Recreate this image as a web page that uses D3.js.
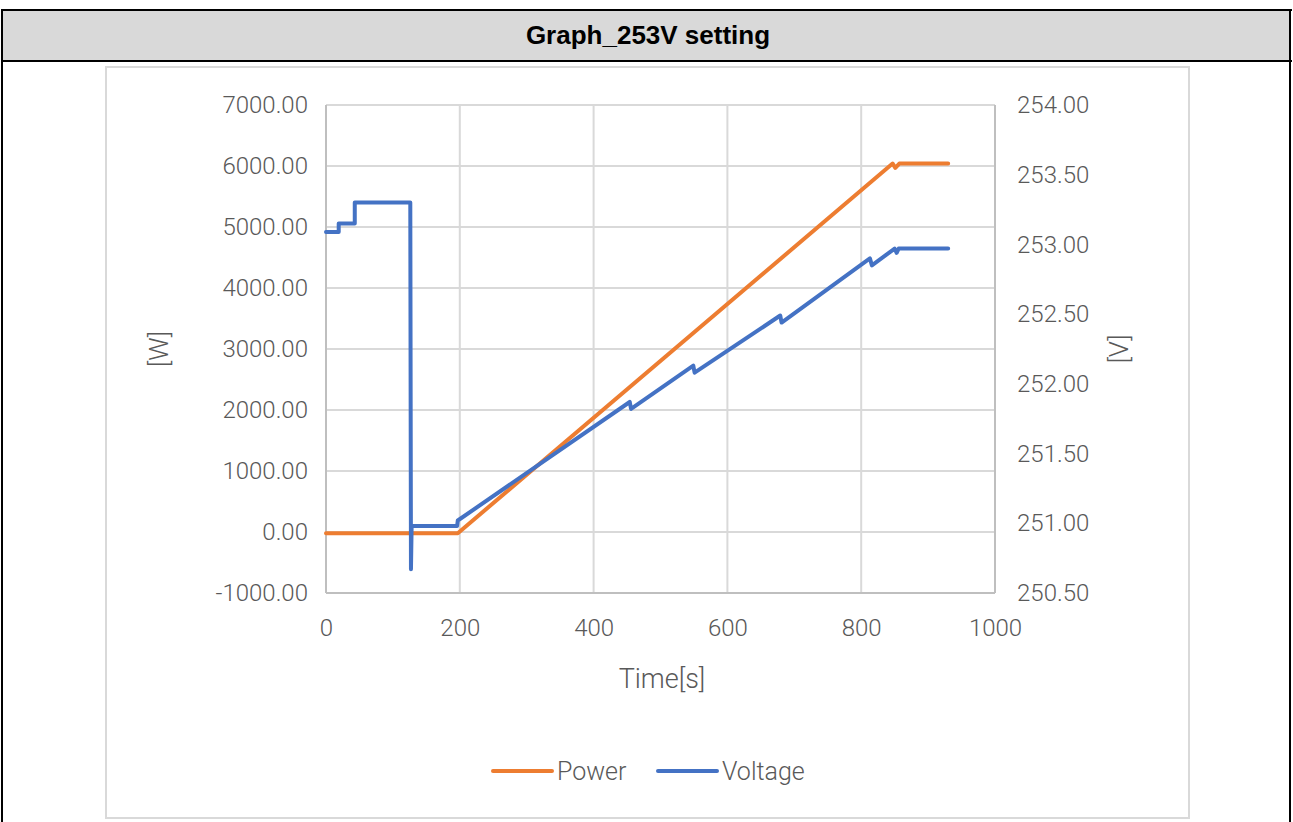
<!DOCTYPE html>
<html><head><meta charset="utf-8">
<script src="https://cdn.jsdelivr.net/npm/d3@7"></script>
<style>
html,body{margin:0;padding:0;background:#fff;}
svg{display:block;}
</style></head>
<body>
<svg id="c" width="1293" height="822"></svg>
<script>
const title = "Graph_253V setting";
const xTicks = [0, 200, 400, 600, 800, 1000];
const leftTicks = [-1000, 0, 1000, 2000, 3000, 4000, 5000, 6000, 7000];
const rightTicks = [250.5, 251.0, 251.5, 252.0, 252.5, 253.0, 253.5, 254.0];
const seriesNames = ["Power", "Voltage"];
const powerTime  = [0, 197, 847, 851, 857, 930];
const powerValue = [-20, -20, 6040, 5970, 6040, 6040];
const voltTime  = [0, 19, 19, 43, 43, 126, 127, 128, 196, 197, 454, 456, 549, 551, 679, 681, 813, 816, 850, 853, 856, 930];
const voltValue = [253.09, 253.09, 253.15, 253.15, 253.30, 253.30, 250.67, 250.98, 250.98, 251.02, 251.87, 251.82, 252.13, 252.08, 252.49, 252.44, 252.90, 252.85, 252.97, 252.94, 252.97, 252.97];

const svg = d3.select("#c");
const txtFont = "'Roboto','Liberation Sans',sans-serif";
const txtWeight = 300;
const txtColor = "#595959";
const fmt2 = d => d3.format(".2f")(d).replace("\u2212","-");

// table frame
svg.append("rect").attr("x",2).attr("y",10).attr("width",1288).attr("height",51).attr("fill","#d9d9d9");
svg.append("line").attr("x1",1).attr("x2",1292).attr("y1",10).attr("y2",10).attr("stroke","#000").attr("stroke-width",2);
svg.append("line").attr("x1",1).attr("x2",1292).attr("y1",61).attr("y2",61).attr("stroke","#000").attr("stroke-width",2);
svg.append("line").attr("x1",2).attr("x2",2).attr("y1",9).attr("y2",822).attr("stroke","#000").attr("stroke-width",2);
svg.append("line").attr("x1",1290).attr("x2",1290).attr("y1",9).attr("y2",822).attr("stroke","#000").attr("stroke-width",2);
svg.append("text").attr("x",648).attr("y",44).attr("text-anchor","middle")
  .attr("font-family","'Liberation Sans',Arial,sans-serif").attr("font-weight","bold").attr("font-size",26)
  .attr("fill","#000").text(title);

// chart area box
svg.append("rect").attr("x",106).attr("y",67).attr("width",1083).attr("height",751)
  .attr("fill","#fff").attr("stroke","#d9d9d9").attr("stroke-width",2);

const x = d3.scaleLinear().domain([0,1000]).range([326,995]);
const yL = d3.scaleLinear().domain([-1000,7000]).range([593,105]);
const yR = d3.scaleLinear().domain([250.5,254]).range([593,105]);

// gridlines
const g = svg.append("g");
g.selectAll(".hg").data(leftTicks).join("line")
  .attr("x1",x(0)).attr("x2",x(1000)).attr("y1",d=>yL(d)).attr("y2",d=>yL(d))
  .attr("stroke","#d9d9d9").attr("stroke-width",2);
g.selectAll(".vg").data(xTicks).join("line")
  .attr("x1",d=>x(d)).attr("x2",d=>x(d)).attr("y1",yL(-1000)).attr("y2",yL(7000))
  .attr("stroke","#d9d9d9").attr("stroke-width",2);
// axis lines
g.append("line").attr("x1",x(0)).attr("x2",x(0)).attr("y1",yL(-1000)).attr("y2",yL(7000)).attr("stroke","#bfbfbf").attr("stroke-width",2);
g.append("line").attr("x1",x(1000)).attr("x2",x(1000)).attr("y1",yL(-1000)).attr("y2",yL(7000)).attr("stroke","#bfbfbf").attr("stroke-width",2);
g.append("line").attr("x1",x(0)).attr("x2",x(1000)).attr("y1",yL(-1000)).attr("y2",yL(-1000)).attr("stroke","#bfbfbf").attr("stroke-width",2);

// axes labels via d3 axes
const axL = svg.append("g").attr("transform",`translate(${x(0)},0)`)
  .call(d3.axisLeft(yL).tickValues(leftTicks).tickFormat(fmt2).tickSize(0).tickPadding(18));
const axR = svg.append("g").attr("transform",`translate(${x(1000)},0)`)
  .call(d3.axisRight(yR).tickValues(rightTicks).tickFormat(fmt2).tickSize(0).tickPadding(22));
const axB = svg.append("g").attr("transform",`translate(0,${yL(-1000)})`)
  .call(d3.axisBottom(x).tickValues(xTicks).tickFormat(d3.format("d")).tickSize(0).tickPadding(26));
[axL,axR,axB].forEach(a=>{
  a.select(".domain").remove();
  a.selectAll("text").attr("font-family",txtFont).attr("font-weight",txtWeight).attr("font-size",24).attr("fill",txtColor);
});

// axis titles
svg.append("text").attr("transform","translate(168,349) rotate(-90)").attr("text-anchor","middle")
  .attr("font-family",txtFont).attr("font-weight",txtWeight).attr("font-size",26).attr("fill",txtColor).text("[W]");
svg.append("text").attr("transform","translate(1128,349) rotate(-90)").attr("text-anchor","middle")
  .attr("font-family",txtFont).attr("font-weight",txtWeight).attr("font-size",26).attr("fill",txtColor).text("[V]");
svg.append("text").attr("x",662).attr("y",688).attr("text-anchor","middle")
  .attr("font-family",txtFont).attr("font-weight",txtWeight).attr("font-size",27).attr("fill",txtColor).text("Time[s]");

// lines
const powerData = powerTime.map((t,i)=>[t,powerValue[i]]);
const voltData = voltTime.map((t,i)=>[t,voltValue[i]]);
svg.append("path").datum(powerData)
  .attr("d", d3.line().x(d=>x(d[0])).y(d=>yL(d[1])))
  .attr("fill","none").attr("stroke","#ed7d31").attr("stroke-width",4).attr("stroke-linejoin","round").attr("stroke-linecap","round");
svg.append("path").datum(voltData)
  .attr("d", d3.line().x(d=>x(d[0])).y(d=>yR(d[1])))
  .attr("fill","none").attr("stroke","#4472c4").attr("stroke-width",4).attr("stroke-linejoin","round").attr("stroke-linecap","round");

// legend
const colors = ["#ed7d31","#4472c4"];
const legX = [493, 658];
seriesNames.forEach((n,i)=>{
  svg.append("line").attr("x1",legX[i]).attr("x2",legX[i]+59).attr("y1",771).attr("y2",771)
    .attr("stroke",colors[i]).attr("stroke-width",4).attr("stroke-linecap","round");
  svg.append("text").attr("x",legX[i]+64).attr("y",780).attr("font-family",txtFont).attr("font-weight",txtWeight).attr("font-size",25)
    .attr("fill",txtColor).text(n);
});
</script>
</body></html>
